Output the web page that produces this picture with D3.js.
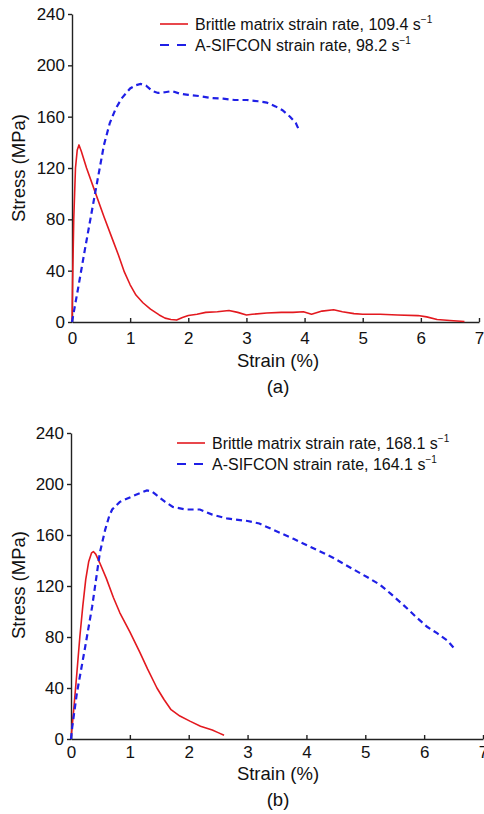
<!DOCTYPE html>
<html>
<head>
<meta charset="utf-8">
<script src="https://cdn.jsdelivr.net/npm/d3@7"></script>
<style>
  body { margin: 0; background: #fff; }
  svg text { font-family: Arial, "Liberation Sans", sans-serif; fill: #111; }
</style>
</head>
<body>
<div class="d3Chart"></div>
<script>
// tick labels
var xTicks = [0, 1, 2, 3, 4, 5, 6, 7];
var yTicks = [0, 40, 80, 120, 160, 200, 240];

// panel (a)
var legendA = ["Brittle matrix strain rate, 109.4 s", "A-SIFCON strain rate, 98.2 s"];
var brittleA = [
  [0, 0], [0.01, 30], [0.03, 80], [0.06, 120], [0.09, 134], [0.12, 138], [0.16, 133],
  [0.25, 120], [0.4, 101], [0.55, 82], [0.7, 64], [0.8, 52], [0.9, 39], [1.0, 29],
  [1.1, 21], [1.22, 15], [1.35, 10], [1.5, 5.5], [1.6, 3], [1.7, 2], [1.8, 1.5],
  [1.9, 3.5], [2.0, 5], [2.15, 6], [2.3, 7.5], [2.5, 8], [2.7, 9], [2.85, 7.5],
  [3.0, 5.5], [3.1, 6], [3.35, 7], [3.6, 7.5], [3.8, 7.5], [3.98, 8], [4.12, 6],
  [4.3, 8.5], [4.5, 9.5], [4.65, 8], [4.85, 6.5], [5.0, 6], [5.3, 6], [5.6, 5.5],
  [5.95, 5], [6.1, 4], [6.28, 2], [6.5, 1.2], [6.75, 0.4]
];
var sifconA = [
  [0, 0], [0.1, 25], [0.22, 56], [0.4, 101], [0.55, 138], [0.65, 155], [0.75, 166],
  [0.85, 174], [1.0, 182], [1.1, 184.5], [1.18, 185.5], [1.28, 184], [1.38, 180],
  [1.48, 178.5], [1.6, 179], [1.72, 180], [1.85, 178], [2.0, 177], [2.2, 176],
  [2.4, 174.5], [2.6, 174], [2.8, 173], [3.0, 173], [3.2, 172], [3.35, 171],
  [3.5, 168], [3.62, 165], [3.75, 160], [3.85, 155], [3.9, 150]
];

// panel (b)
var legendB = ["Brittle matrix strain rate, 168.1 s", "A-SIFCON strain rate, 164.1 s"];
var brittleB = [
  [0, 0], [0.05, 25], [0.1, 52], [0.15, 80], [0.2, 104], [0.25, 125], [0.3, 139],
  [0.35, 146], [0.38, 147], [0.42, 145], [0.49, 138], [0.6, 126], [0.72, 111],
  [0.83, 99], [1.0, 84], [1.17, 68], [1.3, 55], [1.46, 40], [1.58, 31], [1.7, 23],
  [1.85, 18], [2.02, 14], [2.2, 10], [2.4, 7], [2.5, 5], [2.6, 3]
];
var sifconB = [
  [0, 0], [0.02, 9], [0.1, 36], [0.24, 72], [0.36, 104], [0.49, 146], [0.58, 164],
  [0.65, 175], [0.7, 180], [0.83, 186], [1.05, 190.5], [1.29, 195], [1.38, 194],
  [1.46, 191], [1.6, 186], [1.73, 182], [1.95, 180], [2.19, 180], [2.4, 176],
  [2.65, 173], [3.0, 171], [3.2, 169], [3.44, 164], [3.78, 157], [4.1, 150],
  [4.46, 142], [4.8, 133], [5.03, 127], [5.25, 121], [5.43, 114], [5.65, 105],
  [5.88, 95], [6.05, 88], [6.22, 83], [6.4, 77], [6.53, 70]
];

var red = "#e3191f";
var blue = "#1f1fe6";

var svg = d3.select(".d3Chart").append("svg")
  .attr("width", 484)
  .attr("height", 814);

function drawPanel(p) {
  var x = d3.scaleLinear().domain([0, 7]).range([p.x0, p.x1]);
  var y = d3.scaleLinear().domain([0, 240]).range([p.y0, p.y1]);

  // y axis
  var yAxis = svg.append("g")
    .attr("transform", "translate(" + p.x0 + ",0)")
    .call(d3.axisLeft(y).tickValues(yTicks).tickFormat(d3.format("d"))
      .tickSizeInner(4).tickSizeOuter(0).tickPadding(3));
  // x axis, ticks inside
  var xAxis = svg.append("g")
    .attr("transform", "translate(0," + p.y0 + ")")
    .call(d3.axisBottom(x).tickValues(xTicks).tickFormat(d3.format("d"))
      .tickSizeInner(-4).tickSizeOuter(0).tickPadding(p.xPad));

  [xAxis, yAxis].forEach(function (a) {
    a.selectAll("path, line").attr("stroke", "#222").attr("stroke-width", 1.4);
    a.selectAll("text").attr("font-size", 17).attr("fill", "#111")
      .attr("font-family", "Arial, 'Liberation Sans', sans-serif");
  });

  var line = d3.line().x(function (d) { return x(d[0]); }).y(function (d) { return y(d[1]); });

  svg.append("path").datum(p.brittle)
    .attr("d", line).attr("fill", "none")
    .attr("stroke", red).attr("stroke-width", 1.6).attr("stroke-linejoin", "round");
  svg.append("path").datum(p.sifcon)
    .attr("d", line).attr("fill", "none")
    .attr("stroke", blue).attr("stroke-width", 2.2).attr("stroke-dasharray", "6,4");

  // axis titles
  svg.append("text")
    .attr("transform", "translate(25," + p.yTitle + ") rotate(-90)")
    .attr("text-anchor", "middle").attr("font-size", 18.5)
    .text("Stress (MPa)");
  svg.append("text")
    .attr("x", 278).attr("y", p.xTitle)
    .attr("text-anchor", "middle").attr("font-size", 18.5)
    .text("Strain (%)");
  svg.append("text")
    .attr("x", 278).attr("y", p.xTitle + 26)
    .attr("text-anchor", "middle").attr("font-size", 18.5)
    .text(p.tag);

  // legend
  var styles = [{ c: red, w: 1.6, dash: null }, { c: blue, w: 2.2, dash: "9,8" }];
  p.legend.forEach(function (t, i) {
    var ly = p.legY + i * 21;
    svg.append("line")
      .attr("x1", p.legX).attr("x2", p.legX + 28)
      .attr("y1", ly).attr("y2", ly)
      .attr("stroke", styles[i].c).attr("stroke-width", styles[i].w)
      .attr("stroke-dasharray", styles[i].dash);
    var txt = svg.append("text")
      .attr("x", p.legX + 35).attr("y", ly + 5.5)
      .attr("font-size", 16)
      .text(t);
    txt.append("tspan").attr("dy", -7).attr("font-size", 10).text("\u22121");
  });
}

drawPanel({
  x0: 72, x1: 479, y0: 322, y1: 14, xPad: 10,
  brittle: brittleA, sifcon: sifconA,
  legend: legendA, legX: 160, legY: 24,
  yTitle: 168, xTitle: 367, tag: "(a)"
});
drawPanel({
  x0: 71, x1: 483, y0: 739, y1: 433, xPad: 7,
  brittle: brittleB, sifcon: sifconB,
  legend: legendB, legX: 177, legY: 443,
  yTitle: 585, xTitle: 780, tag: "(b)"
});
</script>
</body>
</html>
